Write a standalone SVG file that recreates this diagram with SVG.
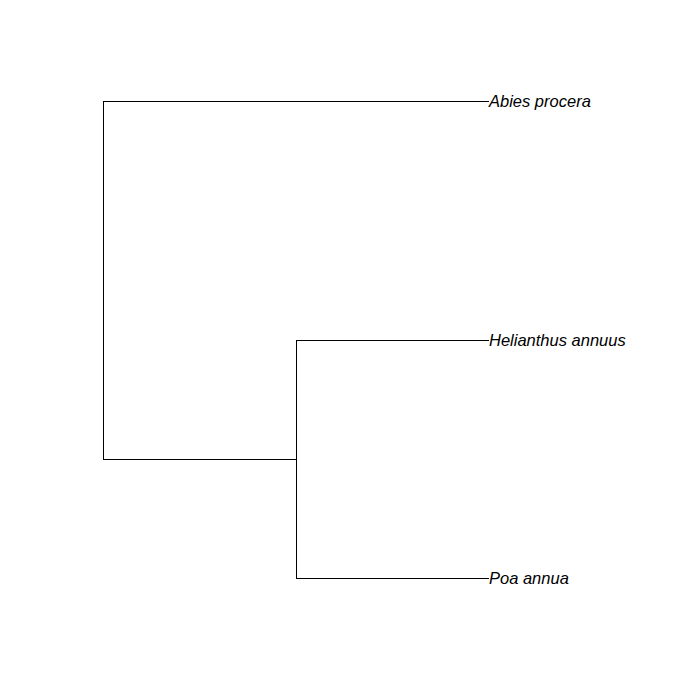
<svg xmlns="http://www.w3.org/2000/svg" width="700" height="700" viewBox="0 0 700 700">
<style>
.edge{stroke:#000;stroke-width:1;fill:none}
.lbl{font-family:"Liberation Sans",Arial,sans-serif;font-style:italic;font-size:16.5px;fill:#000}
</style>
<rect width="700" height="700" fill="#fff"/>
<g id="connectors">
<path class="edge" d="M103.5,101.5 H489"/>
<path class="edge" d="M103.5,101 V459.5"/>
<path class="edge" d="M103,459.5 H296.5"/>
<path class="edge" d="M296.5,340 V578.5"/>
<path class="edge" d="M296,340.5 H489"/>
<path class="edge" d="M296,578.5 H489"/>
</g>
<g id="abies"><text class="lbl" x="489" y="107">Abies procera</text></g>
<g id="helianthus"><text class="lbl" x="489" y="346">Helianthus annuus</text></g>
<g id="poa"><text class="lbl" x="489" y="584">Poa annua</text></g>
</svg>
